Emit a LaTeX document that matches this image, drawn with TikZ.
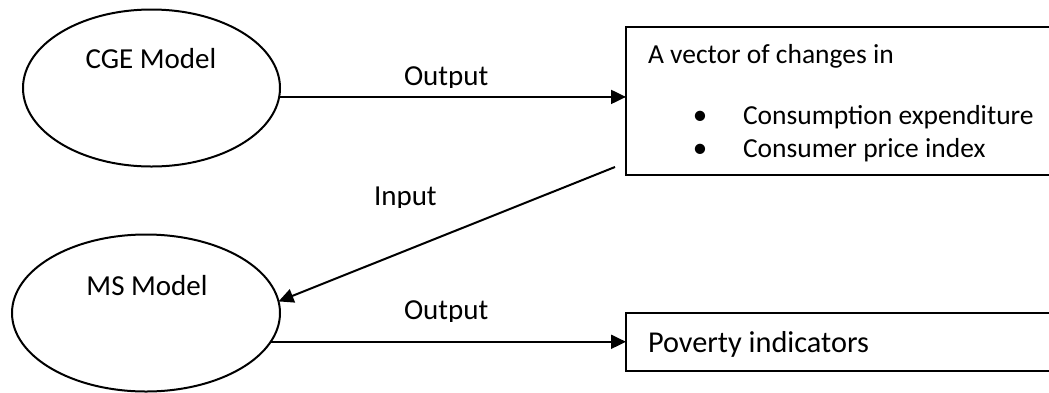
\documentclass[tikz,border=0pt]{standalone}
\usepackage{fontspec}
\setmainfont{Carlito}
\usetikzlibrary{arrows.meta,shapes.geometric}
\begin{document}
\begin{tikzpicture}[x=1pt,y=-1pt,
  every node/.style={font=\fontsize{29}{34}\selectfont, inner sep=0pt, outer sep=0pt},
  model/.style={draw, line width=2pt, ellipse, minimum width=#1, minimum height=157pt},
  result/.style={draw, line width=2pt, rectangle, anchor=north west, minimum width=440pt},
  flow/.style={line width=2pt, -{Triangle[length=15pt,width=14pt]}},
  txt/.style={anchor=base west},
  small/.style={font=\fontsize{27.5}{32}\selectfont},
  large/.style={font=\fontsize{30.3}{35}\selectfont},
]
\useasboundingbox (0,0) rectangle (1049,392);
\clip (0,0) rectangle (1049,392);

% models
\node[model=257pt] (cge) at (151.5,88) {};
\node[anchor=base] (cgetext) at (151,68) {CGE Model};
\node[model=268pt] (ms) at (146,313) {};
\node[anchor=base] (mstext) at (147,295) {MS Model};

% result boxes
\node[result, minimum height=148pt] (vec) at (626,27) {};
\node[txt, small] (vectitle) at (648,63) {A vector of changes in};
\node[anchor=base] (b1) at (700,124) {•};
\node[txt, small] (item1) at (743,124) {Consumption expenditure};
\node[anchor=base] (b2) at (700,157) {•};
\node[txt, small] (item2) at (743,157) {Consumer price index};

\node[result, minimum height=58pt] (pov) at (626,313) {};
\node[txt, large] (povtext) at (648,352) {Poverty indicators};

% connectors
\coordinate (inp) at (615,167);
\draw[flow] (cge.-4.5) -- (cge.-4.5 -| vec.west);
\draw[flow] (inp) -- (ms.5);
\draw[flow] (ms.-13.5) -- (ms.-13.5 -| pov.west);

% connector labels (bottoms cut by their frames)
\begin{scope}
  \clip (0,0) rectangle (1049,87);
  \node[txt] (out1) at (404,85) {Output};
\end{scope}
\begin{scope}
  \clip (0,150) rectangle (1049,207);
  \node[txt] (inlabel) at (374,205) {Input};
\end{scope}
\begin{scope}
  \clip (0,280) rectangle (1049,321);
  \node[txt] (out2) at (404,319) {Output};
\end{scope}
\end{tikzpicture}
\end{document}
